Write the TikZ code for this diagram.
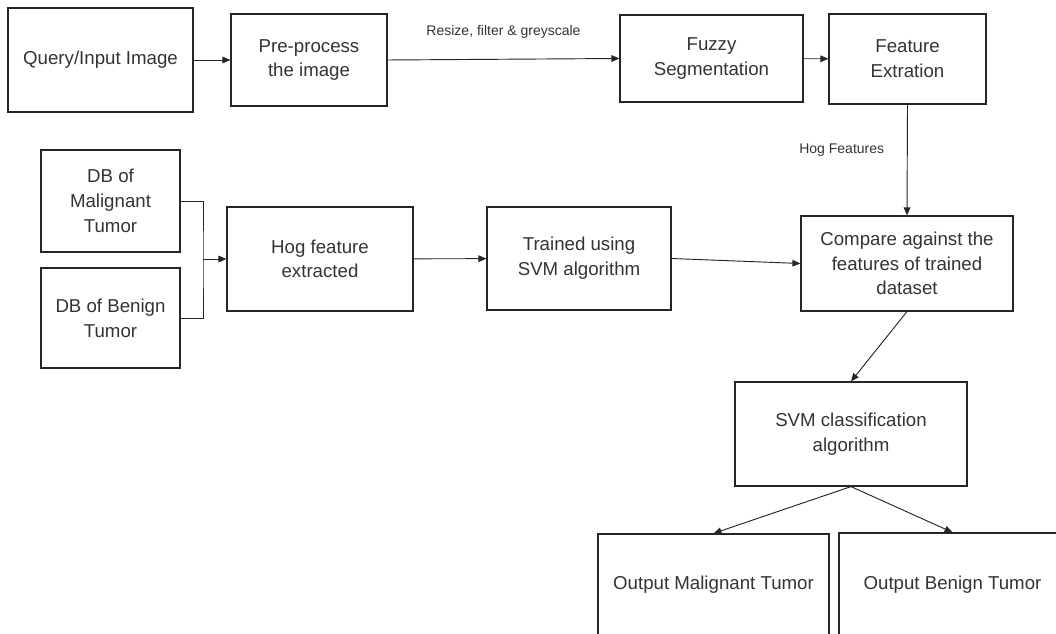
\documentclass[tikz,border=0pt]{standalone}
\usepackage{fontspec}
\setmainfont{Liberation Sans}
\usetikzlibrary{arrows.meta, positioning, calc}

\begin{document}
\begin{tikzpicture}[
    x=0.75pt, y=-0.75pt,
    every node/.style={font=\fontsize{14}{18.5}\selectfont, text=black!80},
    box/.style={draw=black!85, line width=0.9pt, align=center, inner sep=2pt},
    sz/.style 2 args={minimum width=#1*0.75pt, minimum height=#2*0.75pt},
    elab/.style={font=\fontsize{10.5}{12}\selectfont, inner sep=1pt},
    arrow/.style={-{Triangle[length=6pt, width=5pt]}, line width=0.7pt, draw=black!85},
    link/.style={line width=0.7pt, draw=black!85},
]
\useasboundingbox (0,0) rectangle (1056,634);
\clip (0,0) rectangle (1056,634);

% ===== TOP ROW (query image) =====
\node[box, sz={185}{104}] (query) at (100.5,60) {Query/Input Image};
\node[box, sz={156}{92}] (prep) at (309,60) {Pre-process\\the image};
\node[box, sz={183}{87}] (fuzzy) at (711.5,58.5) {Fuzzy\\Segmentation};
\node[box, sz={157}{90}] (featx) at (907.5,59) {Feature\\Extration};

% ===== MIDDLE ROW (training) =====
\node[box, sz={139}{102}] (dbmal) at (110.5,201) {DB of\\Malignant\\Tumor};
\node[box, sz={139}{100}] (dbben) at (110.5,318) {DB of Benign\\Tumor};
\node[box, sz={186}{104}] (hogx) at (320,259) {Hog feature\\extracted};
\node[box, sz={184}{103}] (train) at (579,258.5) {Trained using\\SVM algorithm};
\node[box, sz={212}{95}] (compare) at (907,263.5) {Compare against the\\features of trained\\dataset};

% ===== CLASSIFICATION =====
\node[box, sz={232}{104}] (svmc) at (851,434) {SVM classification\\algorithm};
\node[box, sz={231}{102}] (outmal) at (713.5,585) {Output Malignant Tumor};
\node[box, sz={227}{103}] (outben) at (952.5,584.5) {Output Benign Tumor};

% Junction of the two databases
\coordinate (join) at (203,259);

% ===== CONNECTORS =====
\draw[arrow] (query) -- (prep);
\draw[arrow] (prep.east) -- node[elab, above=14pt] {Resize, filter \& greyscale} (fuzzy.west);
\draw[arrow] (fuzzy) -- (featx);
\draw[arrow] (featx.south) -- node[elab, pos=0.41, left=16pt] {Hog Features} (compare.north);

\draw[link] (dbmal.east) -| (join) |- (dbben.east);
\draw[arrow] (join) -- (hogx.west);
\draw[arrow] (hogx) -- (train);
\draw[arrow] (train.east) -- (compare.west);

\draw[arrow] (compare.south) -- (svmc.north);
\draw[arrow] (svmc.south) -- (outmal.north);
\draw[arrow] (svmc.south) -- (outben.north);

\end{tikzpicture}
\end{document}
